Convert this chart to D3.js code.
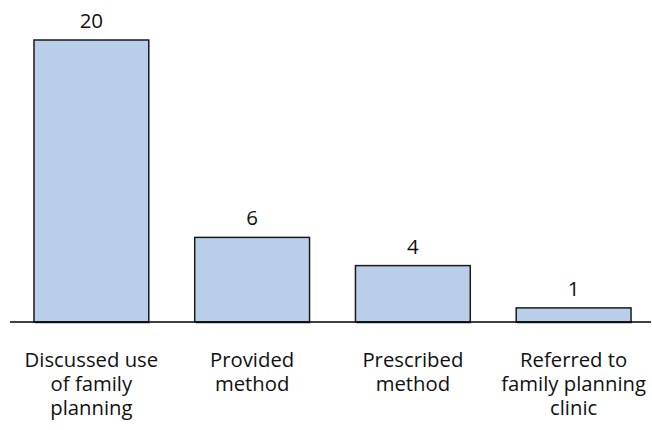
<!DOCTYPE html>
<html>
<head>
<meta charset="utf-8">
<script src="https://cdn.jsdelivr.net/npm/d3@7"></script>
<style>
  html, body { margin: 0; padding: 0; background: #fff; }
  svg { display: block; }
  text { font-family: "Open Sans", "Noto Sans", sans-serif; fill: #111; }
</style>
</head>
<body>
<svg id="chart" width="652" height="430"></svg>
<script>
const categories = [
  ["Discussed use", "of family", "planning"],
  ["Provided", "method"],
  ["Prescribed", "method"],
  ["Referred to", "family planning", "clinic"]
];
const categoryKeys = ["Discussed use of family planning", "Provided method", "Prescribed method", "Referred to family planning clinic"];
const values = [20, 6, 4, 1];

const baselineY = 322, topY = 40;
const svg = d3.select("#chart");

const x = d3.scaleBand()
  .domain(categoryKeys)
  .range([11, 654])
  .paddingInner(0.2857)
  .paddingOuter(0.1429);

const y = d3.scaleLinear().domain([0, 20]).range([baselineY, topY]);

const g = svg.append("g");

// subtle shadow under bars
g.selectAll("rect.shadow")
  .data(values)
  .join("rect")
  .attr("class", "shadow")
  .attr("x", (d, i) => x(categoryKeys[i]) + 1)
  .attr("y", baselineY)
  .attr("width", x.bandwidth())
  .attr("height", 1.5)
  .attr("fill", "#9a9a9a");

g.selectAll("rect.bar")
  .data(values)
  .join("rect")
  .attr("class", "bar")
  .attr("x", (d, i) => x(categoryKeys[i]))
  .attr("y", d => y(d))
  .attr("width", x.bandwidth())
  .attr("height", d => baselineY - y(d))
  .attr("fill", "#b9cfe9")
  .attr("stroke", "#1a1a1a")
  .attr("stroke-width", 1.5);

// axis line
svg.append("line")
  .attr("x1", 10).attr("x2", 651)
  .attr("y1", baselineY).attr("y2", baselineY)
  .attr("stroke", "#000")
  .attr("stroke-width", 1.5);

// value labels
g.selectAll("text.val")
  .data(values)
  .join("text")
  .attr("class", "val")
  .attr("x", (d, i) => x(categoryKeys[i]) + x.bandwidth() / 2)
  .attr("y", d => y(d) - 12)
  .attr("text-anchor", "middle")
  .attr("font-size", 20.5)
  .text(d => d);

// category labels
const lab = g.selectAll("text.cat")
  .data(categories)
  .join("text")
  .attr("class", "cat")
  .attr("text-anchor", "middle")
  .attr("font-size", 20.3)
  .attr("x", (d, i) => x(categoryKeys[i]) + x.bandwidth() / 2)
  .attr("y", 367);

lab.selectAll("tspan")
  .data(d => d)
  .join("tspan")
  .attr("x", function() { return d3.select(this.parentNode).attr("x"); })
  .attr("dy", (d, i) => i === 0 ? 0 : 24)
  .text(d => d);
</script>
</body>
</html>
